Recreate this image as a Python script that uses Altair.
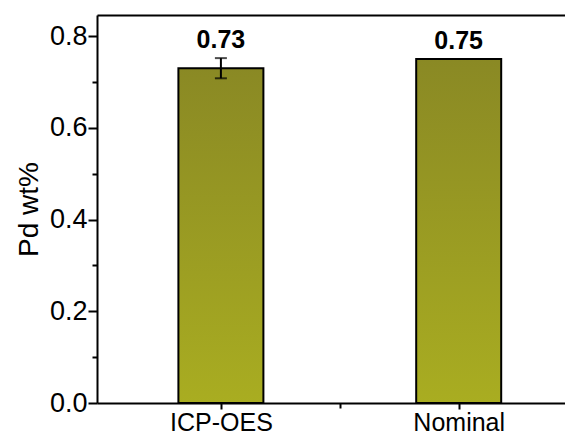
import altair as alt
import pandas as pd

categories = ["ICP-OES", "Nominal"]
values = [0.73, 0.75]
errors = [0.022, 0.0]
labels = ["0.73", "0.75"]
y_major = [0.0, 0.2, 0.4, 0.6, 0.8]
y_minor = [0.1, 0.3, 0.5, 0.7]
x_minor = [1.5]

df = pd.DataFrame({
    "cat": categories,
    "pos": list(range(1, len(categories) + 1)),
    "value": values,
    "err": errors,
    "label": labels,
})
df["lo"] = df["value"] - df["err"]
df["hi"] = df["value"] + df["err"]
err_df = df[df["err"] > 0]

FONT = "Liberation Sans"
xscale = alt.Scale(domain=[0.5, 2.426], nice=False, zero=False)
yscale = alt.Scale(domain=[0, 0.846], nice=False, zero=False)

label_expr = "datum.value == 1 ? 'ICP-OES' : datum.value == 2 ? 'Nominal' : ''"

x_axis = alt.Axis(values=[1, 2], labelExpr=label_expr, title=None, grid=False,
                  tickSize=6, tickWidth=2, domainWidth=2, domainColor="black",
                  tickColor="black", labelFont=FONT, labelFontSize=25,
                  labelColor="black", labelPadding=1, orient="bottom", zindex=1)
y_axis = alt.Axis(values=y_major, format=".1f", title="Pd wt%", grid=False,
                  tickSize=9, tickWidth=2, domainWidth=2, domainColor="black",
                  tickColor="black", labelFont=FONT, labelFontSize=27,
                  labelColor="black", labelPadding=1, titleFont=FONT,
                  titleFontSize=28, titleFontWeight="normal", titleColor="black",
                  titlePadding=6, orient="left", zindex=1)

gradient = alt.Gradient(
    gradient="linear",
    stops=[alt.GradientStop(color="#8a8924", offset=0),
           alt.GradientStop(color="#a9ad21", offset=1)],
    x1=0, x2=0, y1=0, y2=1,
)

base = alt.Chart(df)

bars = base.mark_bar(size=85, fill=gradient, stroke="black", strokeWidth=2).encode(
    x=alt.X("pos:Q", scale=xscale, axis=x_axis),
    y=alt.Y("value:Q", scale=yscale, axis=y_axis),
)

err_rule = alt.Chart(err_df).mark_rule(color="black", strokeWidth=2).encode(
    x=alt.X("pos:Q", scale=xscale, axis=None),
    y=alt.Y("lo:Q", scale=yscale, axis=None),
    y2="hi:Q",
)
err_lo = alt.Chart(err_df).mark_tick(color="black", thickness=2, size=12, orient="horizontal").encode(
    x=alt.X("pos:Q", scale=xscale, axis=None),
    y=alt.Y("lo:Q", scale=yscale, axis=None),
)
err_hi = alt.Chart(err_df).mark_tick(color="black", thickness=2, size=12, orient="horizontal").encode(
    x=alt.X("pos:Q", scale=xscale, axis=None),
    y=alt.Y("hi:Q", scale=yscale, axis=None),
)

text = base.mark_text(font=FONT, fontSize=25, fontWeight="bold", color="black",
                      baseline="alphabetic", dy=-10).encode(
    x=alt.X("pos:Q", scale=xscale, axis=None),
    y=alt.Y("hi:Q", scale=yscale, axis=None),
    text="label:N",
)

minor_df = pd.DataFrame({"mx": [1.5] * len(y_minor), "my": y_minor})
minor = alt.Chart(minor_df).mark_point(opacity=0).encode(
    x=alt.X("mx:Q", scale=xscale, axis=alt.Axis(values=x_minor, labels=False, title=None,
            grid=False, domain=False, tickSize=5, tickWidth=2, tickColor="black",
            orient="bottom", zindex=1)),
    y=alt.Y("my:Q", scale=yscale, axis=alt.Axis(values=y_minor, labels=False, title=None,
            grid=False, domain=False, tickSize=5, tickWidth=2, tickColor="black",
            orient="left", zindex=1)),
)

frame = alt.Chart(minor_df).mark_point(opacity=0).encode(
    x=alt.X("mx:Q", scale=xscale, axis=alt.Axis(labels=False, ticks=False, title=None,
            grid=False, domain=True, domainWidth=2, domainColor="black",
            orient="top", zindex=1)),
    y=alt.Y("my:Q", scale=yscale, axis=None),
)

chart = alt.layer(bars, err_rule, err_lo, err_hi, text, minor, frame).resolve_scale(
    x="shared", y="shared"
).resolve_axis(
    x="independent", y="independent"
).properties(
    width=468, height=388,
    autosize=alt.AutoSizeParams(type="none"),
    padding={"left": 89, "top": 7, "right": 0, "bottom": 34},
    background="white",
).configure_view(stroke=None)

chart.save("out.html", embed_options={"renderer": "svg", "actions": False})
